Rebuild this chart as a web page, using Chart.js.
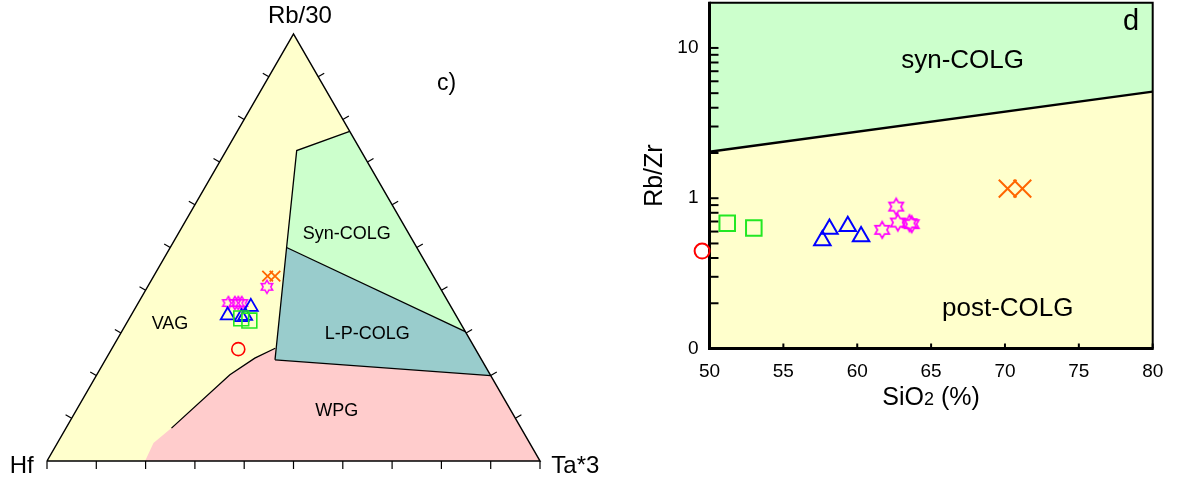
<!DOCTYPE html>
<html><head><meta charset="utf-8">
<script src="https://cdn.jsdelivr.net/npm/chart.js@4.4.0/dist/chart.umd.min.js"></script>
<style>
html,body{margin:0;padding:0;background:#fff;}
#wrap{position:relative;width:1177px;height:486px;overflow:hidden;background:#fff;}
#c1{position:absolute;left:0;top:0;width:620px;height:486px;}
#c2{position:absolute;left:620px;top:0;width:557px;height:486px;}
</style></head><body>
<div id="wrap">
<canvas id="c1" width="620" height="486"></canvas>
<canvas id="c2" width="557" height="486"></canvas>
</div>
<script>
// ===== Panel c) : ternary Hf - Rb/30 - Ta*3, compositions in % as [Hf, Rb/30, Ta*3] =====
const ternaryTicks = [0,10,20,30,40,50,60,70,80,90,100];
const fieldVAG     = [[100,0,0],[0,100,0],[0,0,100]];
const fieldSynCOLG = [[0,77.2,22.8],[13.0,72.7,14.3],[26.4,50.0,23.6],[0,30.3,69.7]];
const fieldLPCOLG  = [[26.4,50.0,23.6],[0,30.3,69.7],[0,20.0,80.0],[41.9,23.7,34.4]];
const fieldWPG     = [[41.9,23.7,34.4],[0,20.0,80.0],[0,0,100],[80.1,0,19.9],[76.3,4.2,19.5],[70.9,7.7,21.4],[52.8,20.2,27.0],[45.8,24.1,30.1],[40.5,26.4,33.1]];
const lineColgVag  = [[0,77.2,22.8],[13.0,72.7,14.3],[26.4,50.0,23.6],[41.9,23.7,34.4]];
const lineSynLP    = [[26.4,50.0,23.6],[0,30.3,69.7]];
const lineLPWPG    = [[41.9,23.7,34.4],[0,20.0,80.0]];
const lineWPGVAG   = [[40.5,26.4,33.1],[45.8,24.1,30.1],[52.8,20.2,27.0],[70.9,7.7,21.4]];
const triangleOutline = [[100,0,0],[0,100,0],[0,0,100],[100,0,0]];

const tCircle   = [[48.1,26.2,25.7]];
const tSquare   = [[43.9,33.4,22.7],[42.5,32.9,24.6]];
const tTriangle = [[46.3,34.1,19.6],[40.6,36.1,23.3],[43.7,33.7,22.6],[42.8,34.0,23.2]];
const tStar     = [[44.7,37.0,18.3],[43.4,37.0,19.6],[42.7,37.0,20.3],[42.0,37.0,21.0],[35.0,40.8,24.2]];
const tCross    = [[33.6,43.3,23.1],[32.1,43.3,24.6]];

// ===== Panel d : Rb/Zr vs SiO2 =====
const sio2Range = [50, 80];
const rbzrRange = [0.1, 20];
const boundarySiO2 = [50, 80];
const boundaryRbZr = [2.04, 5.12];

const sio2Circle = [49.5];                 const rbzrCircle = [0.445];
const sio2Square = [51.2, 53.0];           const rbzrSquare = [0.682, 0.634];
const sio2Tri    = [57.64, 58.12, 59.36, 60.26]; const rbzrTri = [0.524, 0.623, 0.650, 0.557];
const sio2Star   = [61.69, 62.64, 62.75, 63.54, 63.69]; const rbzrStar = [0.616, 0.880, 0.689, 0.682, 0.672];
const sio2Cross  = [70.18, 71.18];         const rbzrCross = [1.158, 1.158];

const xTickStep = 5;
const yTickValues = [0.1,0.2,0.3,0.4,0.5,0.6,0.7,0.8,0.9,1,2,3,4,5,6,7,8,9,10];
const yLabelValues = [0.1, 1, 10];
const yLabelTexts  = ['0', '1', '10'];

// ===== helpers =====
const FONT = "'Liberation Sans', Arial, Helvetica, sans-serif";
Chart.defaults.font.family = FONT;
const H = Math.sqrt(3) / 2;
function tern(c) { const s = c[0] + c[1] + c[2]; return {x: (c[2] + c[1] / 2) / s, y: c[1] * H / s}; }
const terns = arr => arr.map(tern);
const xy = (xs, ys) => xs.map((v, i) => ({x: v, y: ys[i]}));

function poly(data, color, order) {
  return {data, showLine: true, fill: 'shape', backgroundColor: color, borderColor: 'rgba(0,0,0,0)',
          borderWidth: 0, pointRadius: 0, pointHoverRadius: 0, tension: 0, order};
}
function path(data, width, order) {
  return {data, showLine: true, fill: false, borderColor: '#000', borderWidth: width, borderJoinStyle: 'miter',
          pointRadius: 0, pointHoverRadius: 0, tension: 0, order, clip: false};
}
function markers(data, style, radius, color, lw, order) {
  return {data, showLine: false, pointStyle: style, pointRadius: radius, pointHoverRadius: radius,
          pointBorderColor: color, pointBackgroundColor: 'rgba(0,0,0,0)', pointBorderWidth: lw,
          pointRotation: 0, clip: false, order};
}
function hexagram(R, color, lw) {
  let s = Math.ceil(2 * R + 4 * lw + 2); if (s % 2) s++;
  const cv = document.createElement('canvas'); cv.width = s; cv.height = s;
  const g = cv.getContext('2d'); const c = s / 2, r = R / Math.sqrt(3);
  g.beginPath();
  for (let k = 0; k < 12; k++) {
    const a = -Math.PI / 2 + k * Math.PI / 6, rr = (k % 2 === 0) ? R : r;
    const px = c + rr * Math.cos(a), py = c + rr * Math.sin(a);
    if (k) g.lineTo(px, py); else g.moveTo(px, py);
  }
  g.closePath(); g.strokeStyle = color; g.lineWidth = lw; g.lineJoin = 'miter'; g.miterLimit = 4; g.stroke();
  return cv;
}
function drawText(ctx, t, px, py) {
  ctx.font = t.size + 'px ' + FONT; ctx.fillStyle = '#000';
  ctx.textAlign = t.align || 'center'; ctx.textBaseline = 'alphabetic';
  ctx.fillText(t.text, px, py);
}

// ===== ternary decoration plugin (ticks, labels) =====
const ternaryDecor = {
  id: 'ternaryDecor',
  afterDatasetsDraw(chart, args, opts) {
    const {ctx} = chart; const sx = chart.scales.x, sy = chart.scales.y;
    const P = c => { const p = tern(c); return [sx.getPixelForValue(p.x), sy.getPixelForValue(p.y)]; };
    ctx.save(); ctx.strokeStyle = '#000'; ctx.lineWidth = 1.2;
    const L = 8;
    ternaryTicks.forEach(v => {
      let [px, py] = P([100 - v, 0, v]);
      ctx.beginPath(); ctx.moveTo(px, py); ctx.lineTo(px, py + L); ctx.stroke();
      if (v > 0 && v < 100) {
        [px, py] = P([100 - v, v, 0]);
        ctx.beginPath(); ctx.moveTo(px, py); ctx.lineTo(px - 0.866 * 7, py - 0.5 * 7); ctx.stroke();
        [px, py] = P([0, v, 100 - v]);
        ctx.beginPath(); ctx.moveTo(px, py); ctx.lineTo(px + 0.866 * 7, py - 0.5 * 7); ctx.stroke();
      }
    });
    (opts.texts || []).forEach(t => drawText(ctx, t, sx.getPixelForValue(t.x), sy.getPixelForValue(t.y)));
    ctx.restore();
  }
};

new Chart(document.getElementById('c1'), {
  type: 'scatter',
  data: {datasets: [
    poly(terns(fieldVAG), '#ffffcc', 10),
    poly(terns(fieldSynCOLG), '#ccffcc', 9),
    poly(terns(fieldLPCOLG), '#99cccc', 9),
    poly(terns(fieldWPG), '#ffcccc', 9),
    path(terns(lineColgVag), 1.3, 5),
    path(terns(lineSynLP), 1.3, 5),
    path(terns(lineLPWPG), 1.3, 5),
    path(terns(lineWPGVAG), 1.3, 5),
    path(terns(triangleOutline), 1.5, 4),
    markers(terns(tStar), hexagram(6.6, '#ff00ff', 1.5), 7, '#ff00ff', 1.5, 0.4),
    markers(terns(tTriangle), 'triangle', 8, '#0000ff', 1.8, 0.3),
    markers(terns(tSquare), 'rect', 10.5, '#22e822', 1.6, 0.2),
    markers(terns(tCross), 'crossRot', 7.5, '#ff6600', 1.8, 0.1),
    markers(terns(tCircle), 'circle', 6.5, '#ff0000', 1.6, 0)
  ]},
  options: {
    responsive: false, animation: false, events: [],
    layout: {autoPadding: false, padding: {left: 47, top: 34, right: 80, bottom: 25}},
    scales: {
      x: {type: 'linear', min: 0, max: 1, display: false},
      y: {type: 'linear', min: 0, max: H, display: false}
    },
    plugins: {
      legend: {display: false}, tooltip: {enabled: false},
      ternaryDecor: {texts: [
        {text: 'Rb/30', x: 0.513, y: 0.888, size: 24},
        {text: 'Hf', x: -0.0755, y: -0.0243, size: 24, align: 'left'},
        {text: 'Ta*3', x: 1.023, y: -0.0243, size: 24, align: 'left'},
        {text: 'c)', x: 0.791, y: 0.7525, size: 23, align: 'left'},
        {text: 'VAG', x: 0.2495, y: 0.2677, size: 18},
        {text: 'Syn-COLG', x: 0.608, y: 0.4503, size: 18},
        {text: 'L-P-COLG', x: 0.6497, y: 0.2481, size: 18},
        {text: 'WPG', x: 0.5876, y: 0.0907, size: 18}
      ]}
    }
  },
  plugins: [ternaryDecor]
});

// ===== panel d frame / ticks / labels plugin =====
const frameDecor = {
  id: 'frameDecor',
  afterDatasetDraw(chart, args, opts) {
    if (args.index !== opts.afterIndex) return;
    const {ctx, chartArea: a} = chart; const sx = chart.scales.x, sy = chart.scales.y;
    ctx.save(); ctx.strokeStyle = '#000';
    ctx.lineWidth = 2;
    sy.ticks.forEach(t => { const py = sy.getPixelForValue(t.value);
      ctx.beginPath(); ctx.moveTo(a.left, py); ctx.lineTo(a.left + 9, py); ctx.stroke(); });
    sx.ticks.forEach(t => { const px = sx.getPixelForValue(t.value);
      ctx.beginPath(); ctx.moveTo(px, a.bottom); ctx.lineTo(px, a.bottom - 5); ctx.stroke(); });
    ctx.lineWidth = 2;
    ctx.beginPath(); ctx.moveTo(a.left, a.top); ctx.lineTo(a.right, a.top); ctx.lineTo(a.right, a.bottom); ctx.stroke();
    ctx.lineWidth = 3;
    ctx.beginPath(); ctx.moveTo(a.left, a.top - 1); ctx.lineTo(a.left, a.bottom); ctx.lineTo(a.right + 1, a.bottom); ctx.stroke();
    ctx.restore();
  },
  afterDatasetsDraw(chart, args, opts) {
    const {ctx, chartArea: a} = chart; const sx = chart.scales.x, sy = chart.scales.y;
    ctx.save();
    (opts.texts || []).forEach(t => drawText(ctx, t, sx.getPixelForValue(t.x), sy.getPixelForValue(t.y)));
    // x-axis title with small "2"
    const parts = [['SiO', 25], ['2', 18], [' (%)', 25]];
    let w = 0; parts.forEach(p => { ctx.font = p[1] + 'px ' + FONT; w += ctx.measureText(p[0]).width; });
    let x0 = (a.left + a.right) / 2 - w / 2; const by = a.bottom + opts.titleOffset;
    ctx.fillStyle = '#000'; ctx.textAlign = 'left'; ctx.textBaseline = 'alphabetic';
    parts.forEach(p => { ctx.font = p[1] + 'px ' + FONT; ctx.fillText(p[0], x0, by); x0 += ctx.measureText(p[0]).width; });
    ctx.restore();
  }
};

const synPoly  = [{x: sio2Range[0], y: boundaryRbZr[0]}, {x: sio2Range[1], y: boundaryRbZr[1]}, {x: sio2Range[1], y: rbzrRange[1]}, {x: sio2Range[0], y: rbzrRange[1]}];
const postPoly = [{x: sio2Range[0], y: rbzrRange[0]}, {x: sio2Range[1], y: rbzrRange[0]}, {x: sio2Range[1], y: boundaryRbZr[1]}, {x: sio2Range[0], y: boundaryRbZr[0]}];

new Chart(document.getElementById('c2'), {
  type: 'scatter',
  data: {datasets: [
    poly(synPoly, '#ccffcc', 9),
    poly(postPoly, '#ffffcc', 9),
    path(xy(boundarySiO2, boundaryRbZr), 2.5, 5),
    markers(xy(sio2Star, rbzrStar), hexagram(8.2, '#ff00ff', 1.7), 8, '#ff00ff', 1.7, 0.4),
    markers(xy(sio2Tri, rbzrTri), 'triangle', 9.5, '#0000ff', 2, 0.3),
    markers(xy(sio2Square, rbzrSquare), 'rect', 11, '#22e822', 2, 0.2),
    markers(xy(sio2Cross, rbzrCross), 'crossRot', 12.5, '#ff6600', 2, 0.1),
    markers(xy(sio2Circle, rbzrCircle), 'circle', 7.5, '#ff0000', 2, 0)
  ]},
  options: {
    responsive: false, animation: false, events: [],
    layout: {autoPadding: false, padding: {left: 0, top: 2.7, right: 24.3, bottom: 67.5}},
    scales: {
      x: {type: 'linear', min: sio2Range[0], max: sio2Range[1],
          grid: {display: false, drawTicks: false}, border: {display: false},
          ticks: {stepSize: xTickStep, padding: 12, color: '#000', font: {size: 19}, maxRotation: 0},
          afterFit: s => { s.height = 70; s.paddingLeft = 0; s.paddingRight = 0; }},
      y: {type: 'logarithmic', min: rbzrRange[0], max: rbzrRange[1],
          grid: {display: false, drawTicks: false}, border: {display: false},
          afterBuildTicks: s => { s.ticks = yTickValues.map(v => ({value: v})); },
          ticks: {autoSkip: false, padding: 11, color: '#000', font: {size: 19},
                  callback: v => { const i = yLabelValues.findIndex(u => Math.abs(u - v) < 1e-9); return i >= 0 ? yLabelTexts[i] : ''; }},
          title: {display: true, text: 'Rb/Zr', color: '#000', font: {size: 25}, padding: {top: 20.5, bottom: 0}},
          afterFit: s => { s.width = 89.5; s.paddingTop = 0; s.paddingBottom = 0; }}
    },
    plugins: {
      legend: {display: false}, tooltip: {enabled: false},
      frameDecor: {afterIndex: 2, titleOffset: 56.5, texts: [
        {text: 'syn-COLG', x: 67.13, y: 7.3, size: 26},
        {text: 'post-COLG', x: 70.19, y: 0.1636, size: 26},
        {text: 'd', x: 78.54, y: 13.25, size: 29}
      ]}
    }
  },
  plugins: [frameDecor]
});
</script>
</body></html>
